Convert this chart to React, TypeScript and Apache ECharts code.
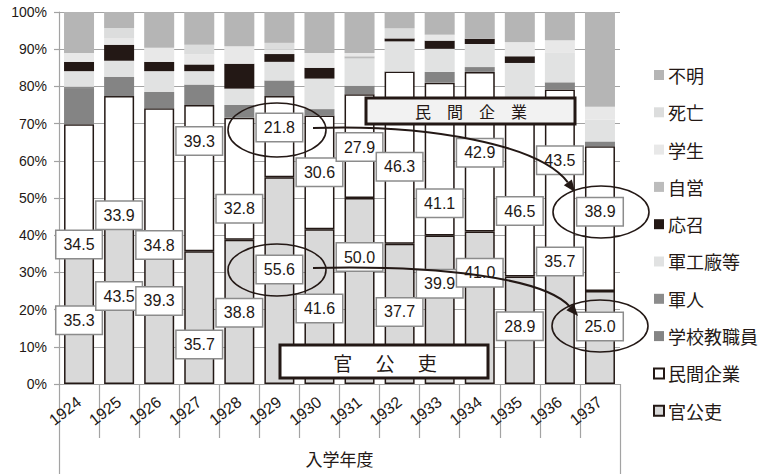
import React, { useEffect, useRef } from "react";
import * as echarts from "echarts";

// 入学年度
const YEARS = ["1924", "1925", "1926", "1927", "1928", "1929", "1930", "1931", "1932", "1933", "1934", "1935", "1936", "1937"];

// 進路別の構成比 (%)
const KANKOURI = [35.3, 43.5, 39.3, 35.7, 38.8, 55.6, 41.6, 50.0, 37.7, 39.9, 41.0, 28.9, 35.7, 25.0];
const MINKAN = [34.5, 33.9, 34.8, 39.3, 32.8, 21.8, 30.6, 27.9, 46.3, 41.1, 42.9, 46.5, 43.5, 38.9];
const KYOSHOKUIN = [9.5, 5.2, 4.4, 5.5, 3.4, 4.2, 1.7, 2.3, 0, 2.9, 1.3, 0.6, 1.9, 1.3];
const GUNJIN = [0.6, 0, 0, 0, 0, 0, 0, 0, 0, 0, 0, 0, 0, 0];
const GUNKOSHO = [4.2, 4.3, 5.6, 3.6, 4.4, 5.0, 8.2, 7.3, 8.1, 6.2, 6.2, 10.3, 7.9, 5.9];
const OSHO = [2.5, 4.3, 2.5, 1.8, 6.7, 2.1, 2.9, 0, 0.8, 2.2, 1.4, 1.8, 0, 0];
const JIEI = [0, 0, 0, 0, 0, 0, 0, 0.6, 0, 0, 0, 0, 0, 0];
const GAKUSEI = [2.4, 1.8, 3.8, 2.7, 4.7, 1.2, 4.0, 0.9, 0, 1.6, 0, 3.8, 3.4, 3.4];
const SHIBO = [0, 2.7, 0, 2.6, 0, 1.8, 0, 0, 2.7, 0, 0, 0, 0, 0];
const FUMEI = [11.0, 4.3, 9.6, 8.8, 9.2, 8.3, 11.0, 11.0, 4.4, 6.1, 7.2, 8.1, 7.6, 25.5];

// hand-placed vertical nudges (px) for the value boxes so they don't collide
const KANKOURI_LABEL_NUDGE = [2, -7, -10, 27, 1, -11, 2, -34, -2, -26, -35, -4, -56, -11];
const MINKAN_LABEL_NUDGE = [56, 56, 72, -37, 30, -9, 0, 1, 9, 44, 1, 21, -10, -7];

const INK = "#231815";
const GRID_GRAY = "#a3a3a3";
const LATIN = "'Liberation Sans', Arial, 'Noto Sans CJK JP', sans-serif";
const CJK = "'Noto Sans CJK JP', 'Liberation Sans', sans-serif";

type Layer = { name: string; values: number[]; color: string; outlined?: boolean; nudge?: number[] };

// stacked from the bottom up
const LAYERS: Layer[] = [
  { name: "官公吏", values: KANKOURI, color: "#d9d9d9", outlined: true, nudge: KANKOURI_LABEL_NUDGE },
  { name: "民間企業", values: MINKAN, color: "#ffffff", outlined: true, nudge: MINKAN_LABEL_NUDGE },
  { name: "学校教職員", values: KYOSHOKUIN, color: "#848484" },
  { name: "軍人", values: GUNJIN, color: "#8c8c8c" },
  { name: "軍工廠等", values: GUNKOSHO, color: "#e1e2e2" },
  { name: "応召", values: OSHO, color: INK },
  { name: "自営", values: JIEI, color: "#bcbcbc" },
  { name: "学生", values: GAKUSEI, color: "#e8e8e8" },
  { name: "死亡", values: SHIBO, color: "#dcdddd" },
  { name: "不明", values: FUMEI, color: "#b5b5b5" },
];

// curved arrow with a filled head
function arrow(p0: number[], c1: number[], c2: number[], p3: number[]) {
  const dx = p3[0] - c2[0];
  const dy = p3[1] - c2[1];
  const len = Math.hypot(dx, dy);
  const ux = dx / len;
  const uy = dy / len;
  const head = 12;
  const half = 5;
  const bx = p3[0] - ux * head;
  const by = p3[1] - uy * head;
  return [
    {
      type: "bezierCurve",
      z: 100,
      shape: { x1: p0[0], y1: p0[1], cpx1: c1[0], cpy1: c1[1], cpx2: c2[0], cpy2: c2[1], x2: bx, y2: by },
      style: { stroke: INK, lineWidth: 2, fill: null },
    },
    {
      type: "polygon",
      z: 100,
      shape: { points: [p3, [bx - uy * half, by + ux * half], [bx + uy * half, by - ux * half]] },
      style: { fill: INK },
    },
  ];
}

function ring(cx: number, cy: number, rx: number, ry: number) {
  return { type: "ellipse", z: 100, shape: { cx, cy, rx, ry }, style: { stroke: INK, lineWidth: 1.6, fill: null } };
}

function buildOption() {
  const series = LAYERS.map((layer) => ({
    name: layer.name,
    type: "bar",
    stack: "total",
    barWidth: 30,
    itemStyle: {
      color: layer.color,
      borderColor: layer.outlined ? INK : undefined,
      borderWidth: layer.outlined ? 1.5 : 0,
    },
    label: layer.nudge
      ? {
          show: true,
          position: "inside",
          formatter: (p: any) => Number(p.value).toFixed(1),
          fontFamily: LATIN,
          fontSize: 16,
          color: INK,
          backgroundColor: "#ffffff",
          borderColor: "#8c8c8c",
          borderWidth: 1.5,
          padding: [6, 7, 5, 7],
        }
      : { show: false },
    emphasis: { disabled: true },
    data: layer.values.map((v, i) =>
      layer.nudge ? { value: v, label: { offset: [0, layer.nudge[i]] } } : v
    ),
  }));

  const graphic: any[] = [
    // 民間企業 banner
    {
      type: "rect",
      z: 100,
      shape: { x: 366, y: 98, width: 209, height: 26 },
      style: { fill: "#f2f2f2", stroke: INK, lineWidth: 3 },
    },
    {
      type: "text",
      z: 101,
      x: 471,
      y: 111,
      style: { text: "民　間　企　業", fontFamily: CJK, fontSize: 16, fill: INK, align: "center", verticalAlign: "middle" },
    },
    // 官公吏 banner
    {
      type: "rect",
      z: 100,
      shape: { x: 280, y: 345, width: 208, height: 33 },
      style: { fill: "#ffffff", stroke: INK, lineWidth: 3 },
    },
    {
      type: "text",
      z: 101,
      x: 385,
      y: 362,
      style: { text: "官　 公　 吏", fontFamily: CJK, fontSize: 19, fill: INK, align: "center", verticalAlign: "middle" },
    },
    ring(277, 130, 49, 27),
    ring(277, 270, 49, 26),
    ring(601, 212, 48, 26),
    ring(600, 326, 48, 26),
    ...arrow([313, 128], [430, 124], [540, 145], [575, 192]),
    ...arrow([313, 268], [440, 265], [545, 278], [578, 316]),
  ];

  return {
    animation: false,
    backgroundColor: "#ffffff",
    textStyle: { fontFamily: LATIN, color: INK },
    grid: { left: 59, right: 141, top: 12, bottom: 90, containLabel: false },
    legend: {
      orient: "vertical",
      left: 653,
      top: 66,
      padding: 0,
      itemWidth: 10,
      itemHeight: 10,
      itemGap: 19.3,
      icon: "rect",
      selectedMode: false,
      data: LAYERS.map((l) => l.name).reverse(),
      textStyle: { fontFamily: CJK, fontSize: 18, color: INK, padding: [0, 0, 0, -1] },
    },
    xAxis: [
      {
        type: "category",
        data: YEARS,
        boundaryGap: true,
        axisLine: { show: true, lineStyle: { color: GRID_GRAY, width: 1.2 } },
        axisTick: { show: true, interval: 0, length: 54, lineStyle: { color: GRID_GRAY, width: 1.2 } },
        axisLabel: { interval: 0, rotate: 38, margin: 16, fontSize: 16, color: INK, fontFamily: LATIN },
      },
      {
        type: "category",
        data: ["入学年度"],
        position: "bottom",
        offset: 54,
        boundaryGap: true,
        axisLine: { show: false },
        axisTick: { show: true, length: 36, lineStyle: { color: GRID_GRAY, width: 1.2 } },
        axisLabel: { margin: 12, fontSize: 17, color: INK, fontFamily: CJK },
      },
    ],
    yAxis: {
      type: "value",
      min: 0,
      max: 100,
      interval: 10,
      axisLine: { show: true, lineStyle: { color: GRID_GRAY, width: 1.2 } },
      axisTick: { show: true, length: 5, lineStyle: { color: GRID_GRAY, width: 1.2 } },
      axisLabel: { formatter: "{value}%", fontSize: 14, color: INK, margin: 12, fontFamily: LATIN },
      splitLine: { show: true, lineStyle: { color: GRID_GRAY, width: 1.2 } },
    },
    series,
    graphic,
  };
}

export default function App() {
  const ref = useRef<HTMLDivElement>(null);
  useEffect(() => {
    if (!ref.current) return;
    const chart = echarts.init(ref.current, null, { renderer: "svg" });
    chart.setOption(buildOption() as any);
    return () => chart.dispose();
  }, []);
  return (
    <div
      ref={ref}
      style={{ position: "absolute", left: 0, top: 0, width: 761, height: 474, background: "#ffffff" }}
    />
  );
}
